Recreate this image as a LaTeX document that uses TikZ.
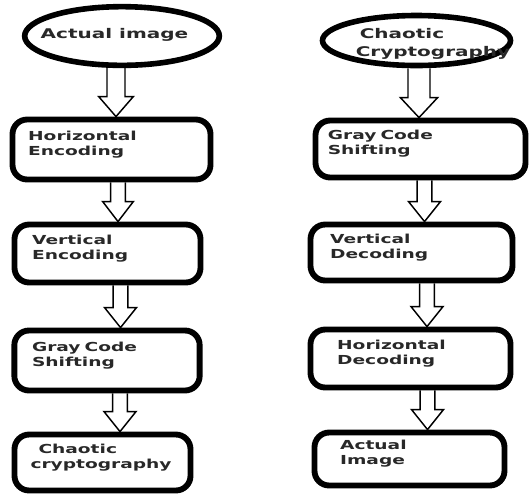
\documentclass[tikz,border=0pt]{standalone}
\usepackage{fontspec}
\usepackage{tikz}
\usetikzlibrary{calc,shapes.geometric}
\newfontfamily\flowfont{DejaVu Sans}[FakeStretch=1.5]
\definecolor{flowText}{RGB}{40,40,40}
\hyphenpenalty=10000

\begin{document}
\begin{tikzpicture}[x=0.75pt,y=-0.75pt,
  box/.style={draw, line width=4.4pt, rounded corners=11pt, fill=white, inner sep=0pt,
    align=left, text=flowText, font=\flowfont\bfseries\fontsize{9.3}{11.3}\selectfont,
    text height=8pt, text depth=22pt},
  oval/.style={draw, ellipse, line width=4.2pt, fill=white, inner sep=0pt},
  ovaltext/.style={inner sep=0pt, align=left, text=flowText,
    font=\flowfont\bfseries\fontsize{10}{14}\selectfont},
  hollow/.style={line width=1.1pt}]
\useasboundingbox (0,0) rectangle (531,494);

\node[oval, minimum width=146pt, minimum height=44pt] (ai) at (122,36) {};
\node[ovaltext] (aitext) at (114.5,35) {Actual image};
\node[box, minimum width=148.5pt, minimum height=45pt, text width=125pt] (he) at (111.5,149.5) {Horizontal\\Encoding};
\node[box, minimum width=139.5pt, minimum height=43.5pt, text width=113pt] (ve) at (107.5,253.5) {Vertical\\Encoding};
\node[box, minimum width=139pt, minimum height=45pt, text width=112.5pt] (gl) at (107,360.5) {Gray Code\\Shifting};
\node[box, minimum width=132pt, minimum height=42pt, text width=108pt] (cl) at (102.5,462.5) {\hspace*{6pt}Chaotic\\cryptography};

\node[oval, minimum width=141pt, minimum height=37.5pt] (cr) at (416.5,40.5) {};
\node[ovaltext] (crtext) at (433,44) {\hspace*{3pt}Chaotic\\Cryptography};
\node[box, minimum width=157.5pt, minimum height=42.75pt, text width=139pt] (gr) at (420.5,149) {Gray Code\\Shifting};
\node[box, minimum width=151.5pt, minimum height=42pt, text width=122pt] (vd) at (411.5,252.5) {Vertical\\Decoding};
\node[box, minimum width=150pt, minimum height=43.5pt, text width=110pt] (hd) at (410.5,358.5) {Horizontal\\Decoding};
\node[box, minimum width=142.5pt, minimum height=39.75pt, text width=104pt] (ar) at (409.5,459) {Actual\\Image};

\foreach \a/\b/\c/\s/\h in {ai/he/116/6.75pt/13pt, he/ve/118/5.6pt/11.5pt,
    ve/gl/120.5/5.6pt/12pt, gl/cl/120/5.6pt/12pt, cr/gr/419/8.25pt/14pt,
    gr/vd/424.5/5.6pt/12pt, vd/hd/427/5.6pt/12pt, hd/ar/427.5/5.6pt/12pt}
  \draw[hollow] let \p1=(\a.south), \p2=(\b.north), \p3=(\c,0) in
    (\x3-\s,\y1) -- (\x3-\s,\y2+15pt) -- (\x3-\h,\y2+15pt) -- (\x3,\y2)
    -- (\x3+\h,\y2+15pt) -- (\x3+\s,\y2+15pt) -- (\x3+\s,\y1);
\end{tikzpicture}
\end{document}
